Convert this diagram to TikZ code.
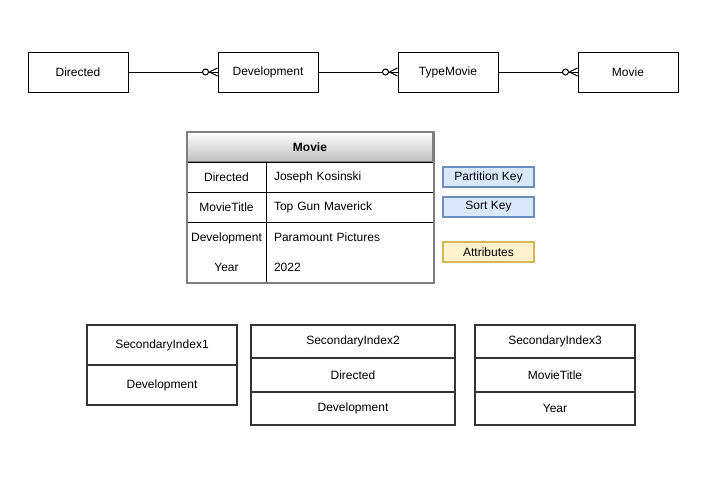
\documentclass[tikz,border=0pt]{standalone}
\usepackage{fontspec}
\setmainfont{Liberation Sans}
\usepackage{xcolor}
\usepackage{tikz}
\usetikzlibrary{positioning}

\definecolor{keyfill}{HTML}{DAE8FC}
\definecolor{keyline}{HTML}{6C8EBF}
\definecolor{attrfill}{HTML}{FFF2CC}
\definecolor{attrline}{HTML}{D6B656}
\definecolor{frame}{HTML}{7F7F7F}
\definecolor{idxline}{HTML}{333333}

\begin{document}
\begin{tikzpicture}[x=0.75pt,y=-0.75pt,
	every node/.style={font=\fontsize{9}{11}\selectfont},
	entity/.style={draw,line width=0.75pt,minimum width=75pt,minimum height=30pt,inner sep=0pt},
	cell/.style={draw,line width=0.75pt,minimum height=22.5pt,inner sep=0pt},
	keycol/.style={cell,minimum width=59.25pt},
	valcol/.style={cell,text width=113.25pt,inner xsep=6pt,align=left},
	legend/.style={line width=1.5pt,minimum width=68.25pt,minimum height=15pt,inner sep=0pt},
	idx/.style={draw=idxline,line width=1.5pt,inner sep=0pt,outer sep=0pt}]
\useasboundingbox (0,0) rectangle (722,479);
%\begin{scope}
	% entities
	\node[entity] at (78,72) (dir) {Directed};
	\node[entity] at (268,72) (dev) {Development};
	\node[entity] at (448,72) (typ) {TypeMovie};
	\node[entity] at (628,72) (mov) {Movie};
	\foreach \a/\b in {dir/dev,dev/typ,typ/mov}{
		\draw [line width=0.75pt] (\a) -- (\b);
		\draw [line width=0.75pt,fill=white] ([xshift=-9pt]\b.west) circle (2.25pt);
		\draw [line width=0.75pt] ([xshift=-6pt]\b.west) -- ([yshift=3pt]\b.west)
			([xshift=-6pt]\b.west) -- ([yshift=-3pt]\b.west);
	}
	% table
	\node[draw=frame,line width=1.5pt,minimum width=184.5pt,minimum height=22.5pt,inner sep=0pt,
		top color=white,bottom color=black!25,font=\fontsize{9}{11}\selectfont\bfseries] at (310,147) (hdr) {Movie};
	\node[keycol] at (226.5,177) (k1) {Directed};
	\node[valcol] at (349.5,177) (v1) {Joseph Kosinski};
	\node[keycol] at (226.5,207) (k2) {MovieTitle};
	\node[valcol] at (349.5,207) (v2) {Top Gun Maverick};
	\node[keycol,minimum height=45pt,align=center,font=\fontsize{9}{22.5}\selectfont] at (226.5,252) (k3) {Development\\Year};
	\node[valcol,minimum height=45pt,font=\fontsize{9}{22.5}\selectfont] at (349.5,252) (v3) {Paramount Pictures\\2022};
	\draw [draw=frame,line width=1.5pt] ([shift={(0.75pt,-0.75pt)}]hdr.north west) rectangle (v3.south east);
	% legend
	\node[legend,draw=keyline,fill=keyfill] at (488.5,177) (pk) {Partition Key};
	\node[legend,draw=keyline,fill=keyfill] at (488.5,207) (sk) {Sort Key};
	\node[legend,draw=attrline,fill=attrfill] at (488.5,252) (at) {Attributes};
	% secondary indexes
	\node[idx,minimum width=112.5pt,minimum height=30pt] at (162,345) (s1a) {SecondaryIndex1};
	\node[idx,minimum width=112.5pt,minimum height=30pt,below=0pt of s1a] (s1b) {Development};
	\node[idx,minimum width=153pt,minimum height=25pt] at (353,341.7) (s2a) {SecondaryIndex2};
	\node[idx,minimum width=153pt,minimum height=25pt,below=0pt of s2a] (s2b) {Directed};
	\node[idx,minimum width=153pt,minimum height=25pt,below=0pt of s2b] (s2c) {Development};
	\node[idx,minimum width=120pt,minimum height=25pt] at (555,341.7) (s3a) {SecondaryIndex3};
	\node[idx,minimum width=120pt,minimum height=25pt,below=0pt of s3a] (s3b) {MovieTitle};
	\node[idx,minimum width=120pt,minimum height=25pt,below=0pt of s3b] (s3c) {Year};
%\end{scope}
\end{tikzpicture}
\end{document}
